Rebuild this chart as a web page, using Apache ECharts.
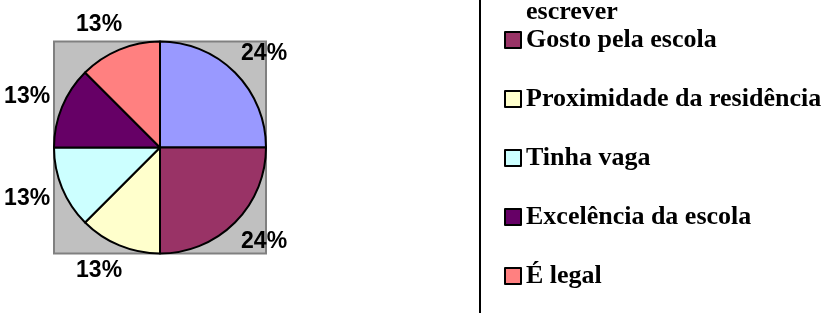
<!DOCTYPE html>
<html>
<head>
<meta charset="utf-8">
<script src="https://cdn.jsdelivr.net/npm/echarts@6/dist/echarts.min.js"></script>
<style>
html,body{margin:0;padding:0;background:#fff;}
#chart{width:830px;height:313px;}
</style>
</head>
<body>
<div id="chart"></div>
<script>
// Categories (legend order, clockwise from 12 o'clock)
const categories = [
  'Aprender a ler e\nescrever',
  'Gosto pela escola',
  'Proximidade da residência',
  'Tinha vaga',
  'Excelência da escola',
  'É legal'
];
// Slice sizes (quarter, quarter, four eighths)
const sliceValues = [25, 25, 12.5, 12.5, 12.5, 12.5];
// Percent labels as printed on the chart
const percentLabels = ['24%', '24%', '13%', '13%', '13%', '13%'];
const sliceColors = ['#9999FF', '#993366', '#FFFFCC', '#CCFFFF', '#660066', '#FF8080'];

const pieCenter = [160, 147.5];
const pieRadius = 106;

const chart = echarts.init(document.getElementById('chart'), null, {renderer: 'canvas'});

const legendText = {
  fontFamily: '"Liberation Serif", "Times New Roman", serif',
  fontWeight: 'bold',
  fontSize: 26,
  color: '#000'
};

chart.setOption({
  animation: false,
  backgroundColor: '#ffffff',
  graphic: [{
    type: 'rect',
    z: 0,
    shape: {
      x: pieCenter[0] - pieRadius,
      y: pieCenter[1] - pieRadius,
      width: pieRadius * 2,
      height: pieRadius * 2
    },
    style: {fill: '#C0C0C0', stroke: '#808080', lineWidth: 2}
  }],
  legend: [{
    // first entry: only its last line is visible at the top
    orient: 'vertical',
    left: 480,
    top: -57,
    padding: [0, 0, 0, 24],
    icon: 'rect',
    itemWidth: 16,
    itemHeight: 16,
    data: [categories[0]],
    selectedMode: false,
    itemStyle: {borderColor: '#000', borderWidth: 2},
    textStyle: Object.assign({}, legendText, {lineHeight: 46})
  }, {
    orient: 'vertical',
    left: 480,
    top: -33,
    width: 340,
    height: 290,
    padding: [60, 120, 80, 24],
    icon: 'rect',
    itemWidth: 16,
    itemHeight: 16,
    itemGap: 33,
    borderColor: '#000',
    borderWidth: 2,
    data: categories.slice(1),
    selectedMode: false,
    itemStyle: {borderColor: '#000', borderWidth: 2},
    textStyle: Object.assign({}, legendText, {lineHeight: 26})
  }],
  series: [{
    type: 'pie',
    z: 2,
    center: pieCenter,
    radius: pieRadius,
    startAngle: 90,
    clockwise: true,
    avoidLabelOverlap: false,
    silent: true,
    itemStyle: {borderColor: '#000', borderWidth: 2},
    label: {
      show: true,
      position: 'outside',
      formatter: p => percentLabels[p.dataIndex],
      fontFamily: '"Liberation Sans", Arial, sans-serif',
      fontWeight: 'bold',
      fontSize: 23,
      color: '#000'
    },
    labelLine: {show: false, length: 27, length2: -18},
    data: categories.map((name, i) => ({
      name: name,
      value: sliceValues[i],
      itemStyle: {color: sliceColors[i]}
    }))
  }]
});
</script>
</body>
</html>
